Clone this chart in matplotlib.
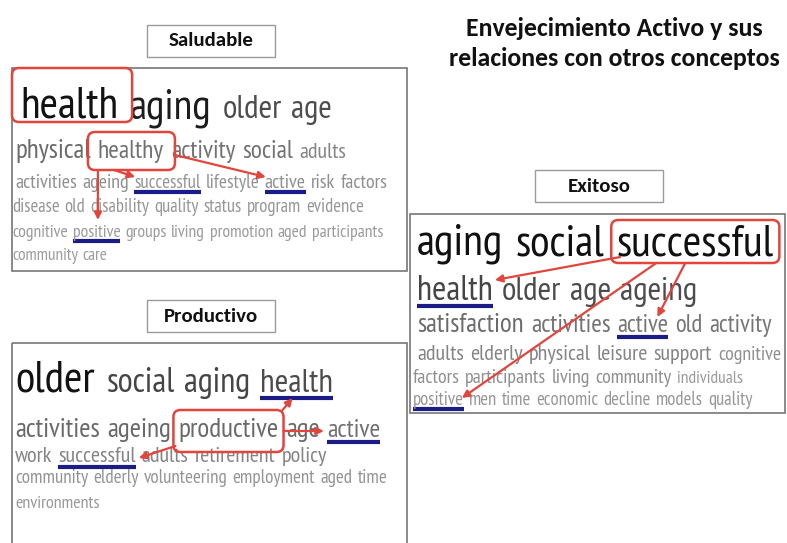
import matplotlib.pyplot as plt
import matplotlib.font_manager as fm
from matplotlib.patches import FancyBboxPatch, Rectangle

# palabras de cada nube, por fila, con su peso relativo (frecuencia)
saludable_words = [
    ['health', 'aging', 'older', 'age'],
    ['physical', 'healthy', 'activity', 'social', 'adults'],
    ['activities', 'ageing', 'successful', 'lifestyle', 'active', 'risk', 'factors'],
    ['disease', 'old', 'disability', 'quality', 'status', 'program', 'evidence'],
    ['cognitive', 'positive', 'groups', 'living', 'promotion', 'aged', 'participants'],
    ['community', 'care'],
]
saludable_weights = [
    [9.3, 8.7, 6.0, 5.9],
    [4.3, 3.9, 3.9, 3.9, 2.9],
    [2.3, 2.3, 2.0, 2.1, 2.3, 2.3, 2.3],
    [1.9, 1.9, 1.9, 1.9, 1.9, 1.9, 1.9],
    [1.6, 1.6, 1.6, 1.6, 1.6, 1.6, 1.6],
    [1.5, 1.5],
]

productivo_words = [
    ['older', 'social', 'aging', 'health'],
    ['activities', 'ageing', 'productive', 'age', 'active'],
    ['work', 'successful', 'adults', 'retirement', 'policy'],
    ['community', 'elderly', 'volunteering', 'employment', 'aged', 'time'],
    ['environments'],
]
productivo_weights = [
    [9.3, 6.4, 6.4, 6.0],
    [4.4, 4.4, 4.4, 4.3, 4.0],
    [2.9, 2.9, 2.9, 2.9, 2.9],
    [2.0, 2.0, 2.0, 2.0, 2.0, 2.0],
    [1.7],
]

exitoso_words = [
    ['aging', 'social', 'successful'],
    ['health', 'older', 'age', 'ageing'],
    ['satisfaction', 'activities', 'active', 'old', 'activity'],
    ['adults', 'elderly', 'physical', 'leisure', 'support', 'cognitive'],
    ['factors', 'participants', 'living', 'community', 'individuals'],
    ['positive', 'men', 'time', 'economic', 'decline', 'models', 'quality'],
]
exitoso_weights = [
    [9.4, 9.4, 9.4],
    [6.4, 6.0, 6.0, 6.0],
    [4.3, 3.9, 3.7, 3.7, 3.7],
    [2.9, 2.9, 2.9, 2.9, 2.9, 2.3],
    [2.3, 2.3, 2.3, 2.3, 1.6],
    [1.9, 1.9, 1.9, 1.9, 1.9, 1.9, 1.9],
]

W, H = 787, 543
RED = '#e2453c'
NAVY = '#1c1c86'

names = {f.name for f in fm.fontManager.ttflist}


def first_font(cands):
    for c in cands:
        if c in names:
            return c
    return 'DejaVu Sans'


cloud_font = first_font(['Liberation Sans Narrow', 'PT Sans Narrow', 'Archivo Narrow',
                         'Roboto Condensed', 'Asap Condensed', 'Liberation Sans'])
title_font = first_font(['Carlito', 'Lato'])

fig = plt.figure(figsize=(W / 100, H / 100), dpi=100)
ax = fig.add_axes([0, 0, 1, 1])
ax.set_xlim(0, W)
ax.set_ylim(H, 0)
ax.axis('off')
renderer = fig.canvas.get_renderer()


def size_px(w):
    return 12 + 3.5 * w


def gray(w):
    g = min(max(0.72 - 0.07 * w, 0.05), 0.7)
    return (g, g, g)


def cloud(words, weights, starts, baselines):
    pos = {}
    for row, wts, x, y in zip(words, weights, starts, baselines):
        for word, wt in zip(row, wts):
            px = size_px(wt)
            t = ax.text(x, y, word, fontsize=px * 0.72, family=cloud_font,
                        color=gray(wt), ha='left', va='baseline')
            bb = t.get_window_extent(renderer)
            pos[word] = (x, x + bb.width, y, px)
            x += bb.width + 0.27 * px
    return pos


def underline(p):
    x0, x1, y, px = p
    yy = y + 0.12 * px + 2
    ax.plot([x0, x1], [yy, yy], color=NAVY, lw=3, solid_capstyle='butt')


def red_box(p, left, right, top, bottom):
    x0, x1, y, px = p
    bx0, bx1 = x0 - left, x1 + right
    by0, by1 = y - top, y + bottom
    ax.add_patch(FancyBboxPatch((bx0, by0), bx1 - bx0, by1 - by0,
                                boxstyle='round,pad=0,rounding_size=7',
                                fc='none', ec=RED, lw=1.8, zorder=5))
    return bx0, bx1, by0, by1


def arrow(src, dst):
    ax.annotate('', xy=dst, xytext=src,
                arrowprops=dict(arrowstyle='-|>', color=RED, lw=1.6,
                                mutation_scale=11, shrinkA=0, shrinkB=0),
                zorder=6)


def label_box(cx, cy, text):
    ax.add_patch(Rectangle((cx - 64, cy - 16), 128, 32, fc='white', ec='#9a9a9a', lw=1.0))
    ax.text(cx, cy, text, ha='center', va='center', fontsize=15,
            fontweight='bold', family=title_font, color='#111111')


# titulo
ax.text(614, 28, 'Envejecimiento Activo y sus', ha='center', va='center',
        fontsize=18.5, fontweight='bold', family=title_font, color='#111111')
ax.text(614, 58, 'relaciones con otros conceptos', ha='center', va='center',
        fontsize=18.5, fontweight='bold', family=title_font, color='#111111')

# --- Saludable ---
label_box(211, 41, 'Saludable')
ax.add_patch(Rectangle((12, 68), 395, 203, fc='none', ec='#777777', lw=1.2))
sal = cloud(saludable_words, saludable_weights,
            [20, 15, 15, 12, 12, 12], [118, 158, 188, 212, 237, 260])
red_box(sal['health'], 8, 14, 50, 4)
hx0, hx1, hy0, hy1 = red_box(sal['healthy'], 10, 11, 26, 12)
for w in ['successful', 'active', 'positive']:
    underline(sal[w])
a = sal['active']
arrow((hx1, hy0 + 23), (a[0] + 1, a[2] - 11))
s = sal['successful']
arrow((hx0 + 26, hy1), (s[0] + 1, s[2] - 11))
p = sal['positive']
arrow((hx0 + 10, hy1), (hx0 + 10, p[2] - 17))

# --- Productivo ---
label_box(211, 316, 'Productivo')
ax.add_patch(Rectangle((12, 343), 395, 260, fc='none', ec='#777777', lw=1.2))
pro = cloud(productivo_words, productivo_weights,
            [15, 15, 15, 15, 15], [392, 437, 462, 483, 508])
bx0, bx1, by0, by1 = red_box(pro['productive'], 5, 5, 27, 15)
for w in ['health', 'active', 'successful']:
    underline(pro[w])
h = pro['health']
arrow((bx1 - 1, by0), (h[0] + 0.45 * (h[1] - h[0]), h[2] + 6))
a = pro['active']
arrow((bx1, by0 + 21), (a[0] - 3, a[2] - 6))
s = pro['successful']
arrow((bx0 + 2, by1 - 6), (s[1] + 3, s[2] - 4))

# --- Exitoso ---
label_box(599, 186, 'Exitoso')
ax.add_patch(Rectangle((410, 214), 375, 199, fc='none', ec='#777777', lw=1.2))
exi = cloud(exitoso_words, exitoso_weights,
            [417, 417, 417, 417, 413, 413], [255, 300, 332, 360, 383, 405])
ex0, ex1, ey0, ey1 = red_box(exi['successful'], 5, 6, 35, 8)
for w in ['health', 'active', 'positive']:
    underline(exi[w])
h = exi['health']
arrow((ex0 + 9, ey1 - 6), (h[1] + 2, h[2] - 20))
p = exi['positive']
arrow((ex0 + 45, ey1), (p[1] - 2, p[2] - 7))
a = exi['active']
arrow((ex0 + 74, ey1), (a[0] + 40, a[2] - 15))

fig.savefig('out.png', dpi=100)
